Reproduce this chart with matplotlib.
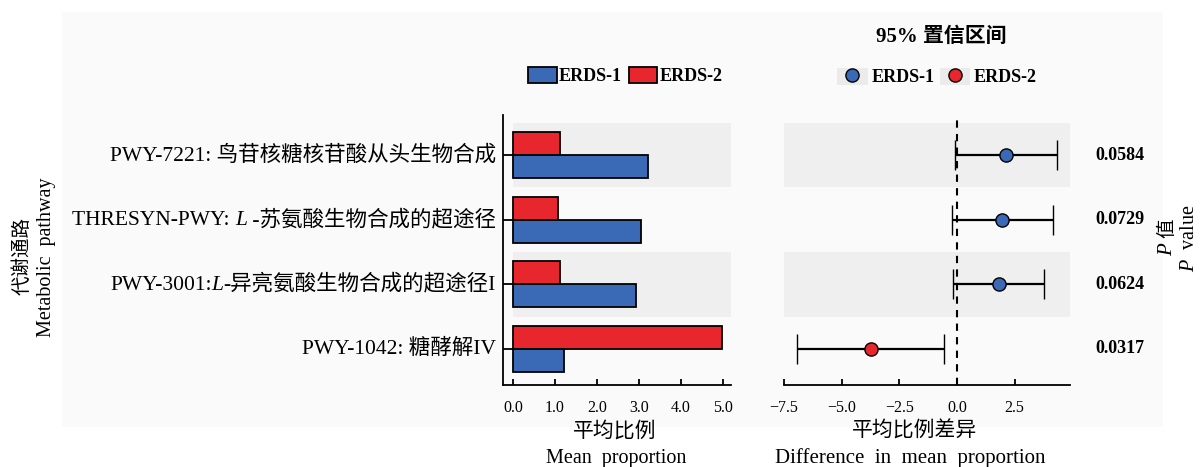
import matplotlib.pyplot as plt
from matplotlib.lines import Line2D
from matplotlib.patches import Patch, Rectangle
from matplotlib.offsetbox import TextArea, HPacker, AnnotationBbox
from matplotlib.ticker import FuncFormatter

plt.rcParams["font.family"] = ["Liberation Serif", "Noto Sans CJK SC"]
plt.rcParams["mathtext.fontset"] = "custom"
plt.rcParams["mathtext.rm"] = "Liberation Serif"
plt.rcParams["mathtext.it"] = "Liberation Serif:italic"

# pathway names, split into (text, italic) pieces
pathway_labels = [
    [("PWY-7221: 鸟苷核糖核苷酸从头生物合成", False)],
    [("THRESYN-PWY: ", False), ("L", True), (" -苏氨酸生物合成的超途径", False)],
    [("PWY-3001:", False), ("L", True), ("-异亮氨酸生物合成的超途径I", False)],
    [("PWY-1042: 糖酵解IV", False)],
]
erds1_mean = [3.23, 3.06, 2.94, 1.22]
erds2_mean = [1.12, 1.08, 1.12, 4.98]
mean_diff = [2.11, 1.95, 1.82, -3.74]
ci_low = [-0.09, -0.23, -0.17, -6.93]
ci_high = [4.33, 4.16, 3.77, -0.56]
p_values = ["0.0584", "0.0729", "0.0624", "0.0317"]
groups = ["ERDS-1", "ERDS-2"]

BLUE = "#3a69b6"
RED = "#e8262d"
STRIPE = "#efefef"
PANEL = "#fafafa"

W, H = 1200, 467
fig = plt.figure(figsize=(W / 100, H / 100), dpi=100, facecolor="white")
fig.patches.append(Rectangle((62 / W, 1 - 427 / H), (1163 - 62) / W, (427 - 12) / H,
                             transform=fig.transFigure, facecolor=PANEL,
                             edgecolor="none", zorder=-10))

one_decimal = FuncFormatter(lambda v, _: f"{v:.1f}".replace("-", "\u2212"))

y = list(range(len(pathway_labels)))
ylim = (3.56, -0.62)

# mean proportion bars
ax1 = fig.add_axes([503 / W, 1 - 385 / H, 228 / W, 270 / H])
ax1.set_facecolor("none")
ax1.set_xlim(-0.24, 5.2)
ax1.set_ylim(*ylim)
for i in y[::2]:
    ax1.axhspan(i - 0.5, i + 0.5, xmin=0.24 / 5.44, xmax=1, color=STRIPE, lw=0, zorder=0)
ax1.barh([v - 0.18 for v in y], erds2_mean, height=0.356, color=RED,
         edgecolor="black", linewidth=1.3, zorder=2)
ax1.barh([v + 0.18 for v in y], erds1_mean, height=0.356, color=BLUE,
         edgecolor="black", linewidth=1.3, zorder=2)
ax1.set_yticks(y)
ax1.set_yticklabels([])
ax1.set_xticks(range(6))
ax1.xaxis.set_major_formatter(one_decimal)
ax1.tick_params(axis="y", direction="in", length=7, width=1.3)
ax1.tick_params(axis="x", direction="in", length=4, width=1.3, labelsize=11.5, pad=11)
for side in ("top", "right"):
    ax1.spines[side].set_visible(False)
for side in ("left", "bottom"):
    ax1.spines[side].set_linewidth(1.3)

base = dict(fontsize=15.5, family=["Liberation Serif", "Noto Sans CJK SC"])
ital = dict(fontsize=15.5, family="Liberation Serif", style="italic")
for i, pieces in zip(y, pathway_labels):
    boxes = [TextArea(t, textprops=ital if it else base) for t, it in pieces]
    pack = HPacker(children=boxes, align="baseline", pad=0, sep=0)
    ax1.add_artist(AnnotationBbox(pack, (0, i), xycoords=("axes fraction", "data"),
                                  xybox=(-5, 0), boxcoords="offset points",
                                  box_alignment=(1, 0.5), frameon=False,
                                  annotation_clip=False))

# difference with 95% CI
ax2 = fig.add_axes([784 / W, 1 - 385 / H, 286 / W, 270 / H])
ax2.set_facecolor("none")
ax2.set_xlim(-7.5, 4.9)
ax2.set_ylim(*ylim)
for i in y[::2]:
    ax2.axhspan(i - 0.5, i + 0.5, color=STRIPE, lw=0, zorder=0)
ax2.axvline(0, color="black", lw=1.5, ls=(0, (3.5, 3)), zorder=1)
for i in y:
    col = BLUE if mean_diff[i] > 0 else RED
    ax2.errorbar(mean_diff[i], i,
                 xerr=[[mean_diff[i] - ci_low[i]], [ci_high[i] - mean_diff[i]]],
                 fmt="o", color="black", ecolor="black", elinewidth=1.6,
                 capsize=11, capthick=1.8, markersize=9.5, markerfacecolor=col,
                 markeredgecolor="black", markeredgewidth=1, zorder=3)
    ax2.text(1.175, i, p_values[i], transform=ax2.get_yaxis_transform(),
             ha="center", va="center", fontsize=13, fontweight="bold")
ax2.set_yticks([])
ax2.set_xticks([-7.5, -5.0, -2.5, 0.0, 2.5])
ax2.xaxis.set_major_formatter(one_decimal)
ax2.tick_params(axis="x", direction="in", length=4, width=1.3, labelsize=11.5, pad=11)
for side in ("top", "right", "left"):
    ax2.spines[side].set_visible(False)
ax2.spines["bottom"].set_linewidth(1.3)

# legends and titles
fig.legend(handles=[Patch(facecolor=BLUE, edgecolor="black", linewidth=1.3),
                    Patch(facecolor=RED, edgecolor="black", linewidth=1.3)],
           labels=groups, loc="center", bbox_to_anchor=(625 / W, 1 - 76 / H),
           ncol=2, frameon=False, prop=dict(weight="bold", size=13),
           handlelength=1.6, handleheight=1.0, handletextpad=0.1, columnspacing=0.4)
dot_handles = [(Patch(facecolor="#ebebeb", edgecolor="none"),
                Line2D([], [], ls="none", marker="o", markersize=9.5, markerfacecolor=c,
                       markeredgecolor="black", markeredgewidth=1))
               for c in (BLUE, RED)]
fig.legend(handles=dot_handles, labels=groups, loc="center",
           bbox_to_anchor=(937 / W, 1 - 77 / H), ncol=2, frameon=False,
           prop=dict(weight="bold", size=13), handlelength=1.7, handleheight=1.1,
           handletextpad=0.2, columnspacing=0.3)
fig.text(941 / W, 1 - 37 / H, "95% 置信区间", ha="center", va="center",
         fontsize=15, fontweight="bold")

fig.text(615 / W, 1 - 432 / H, "平均比例", ha="center", va="center", fontsize=15)
fig.text(616 / W, 1 - 458 / H, "Mean  proportion", ha="center", va="center", fontsize=14.5)
fig.text(915 / W, 1 - 432 / H, "平均比例差异", ha="center", va="center", fontsize=15)
fig.text(910 / W, 1 - 458 / H, "Difference  in  mean  proportion", ha="center",
         va="center", fontsize=15)

fig.text(22 / W, 1 - 256 / H, "代谢通路", rotation=90, ha="center", va="center", fontsize=14)
fig.text(47 / W, 1 - 257 / H, "Metabolic  pathway", rotation=90, ha="center",
         va="center", fontsize=14.5)

fig.text(1167 / W, 1 - 249 / H, "$P$", rotation=90, ha="center", va="center", fontsize=15)
fig.text(1167 / W, 1 - 228 / H, "值", rotation=90, ha="center", va="center", fontsize=14)
fig.text(1189 / W, 1 - 238 / H, "$P$  value", rotation=90, ha="center", va="center",
         fontsize=14.5)

fig.savefig("out.png", dpi=100)
